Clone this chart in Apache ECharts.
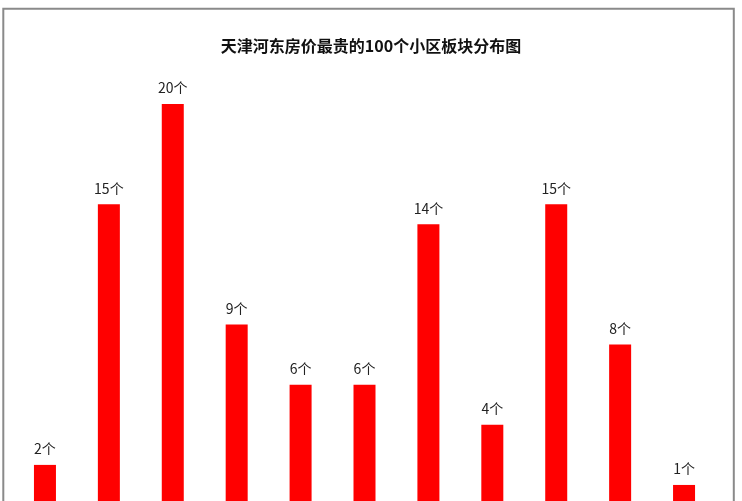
<!DOCTYPE html>
<html>
<head>
<meta charset="utf-8">
<title>天津河东房价最贵的100个小区板块分布图</title>
<script src="https://cdn.jsdelivr.net/npm/echarts@6/dist/echarts.min.js"></script>
<style>
	html, body {margin: 0; padding: 0; background: #fff; overflow: hidden;}
	/* 原图底部被裁掉，画布比窗口高一点 */
	#chart-holder {width: 742px; height: 540px;}
</style>
</head>
<body>
<div id="chart-holder"></div>
<script type="text/javascript">
	// 板块名称在原图中被裁掉了，这里只用序号
	var categories = ['1', '2', '3', '4', '5', '6', '7', '8', '9', '10', '11'];
	var counts = [2, 15, 20, 9, 6, 6, 14, 4, 15, 8, 1];
	var titleText = '天津河东房价最贵的100个小区板块分布图';

	var myChart = echarts.init(document.getElementById('chart-holder'));
	var option = {
		backgroundColor: '#fff',
		animation: false,
		title: {
			text: titleText,
			left: 'center',
			top: 33,
			textStyle: {
				fontFamily: 'Noto Sans CJK SC',
				fontSize: 16,
				fontWeight: 'bold',
				color: '#111'
			}
		},
		graphic: [{
			type: 'rect',
			shape: {x: 3.3, y: 8.7, width: 730.5, height: 600},
			style: {fill: 'none', stroke: '#8a8a8a', lineWidth: 2}
		}],
		grid: {
			left: 13,
			top: 104,
			width: 703,
			height: 401
		},
		xAxis: {
			type: 'category',
			data: categories,
			show: false
		},
		yAxis: {
			type: 'value',
			min: 0,
			max: 20,
			show: false
		},
		series: [{
			type: 'bar',
			data: counts,
			barWidth: 22,
			itemStyle: {color: '#ff0000'},
			label: {
				show: true,
				position: 'top',
				distance: 9,
				formatter: '{c}个',
				fontFamily: 'Noto Sans CJK SC',
				fontSize: 14,
				color: '#222'
			}
		}]
	};
	myChart.setOption(option);
</script>
</body>
</html>
